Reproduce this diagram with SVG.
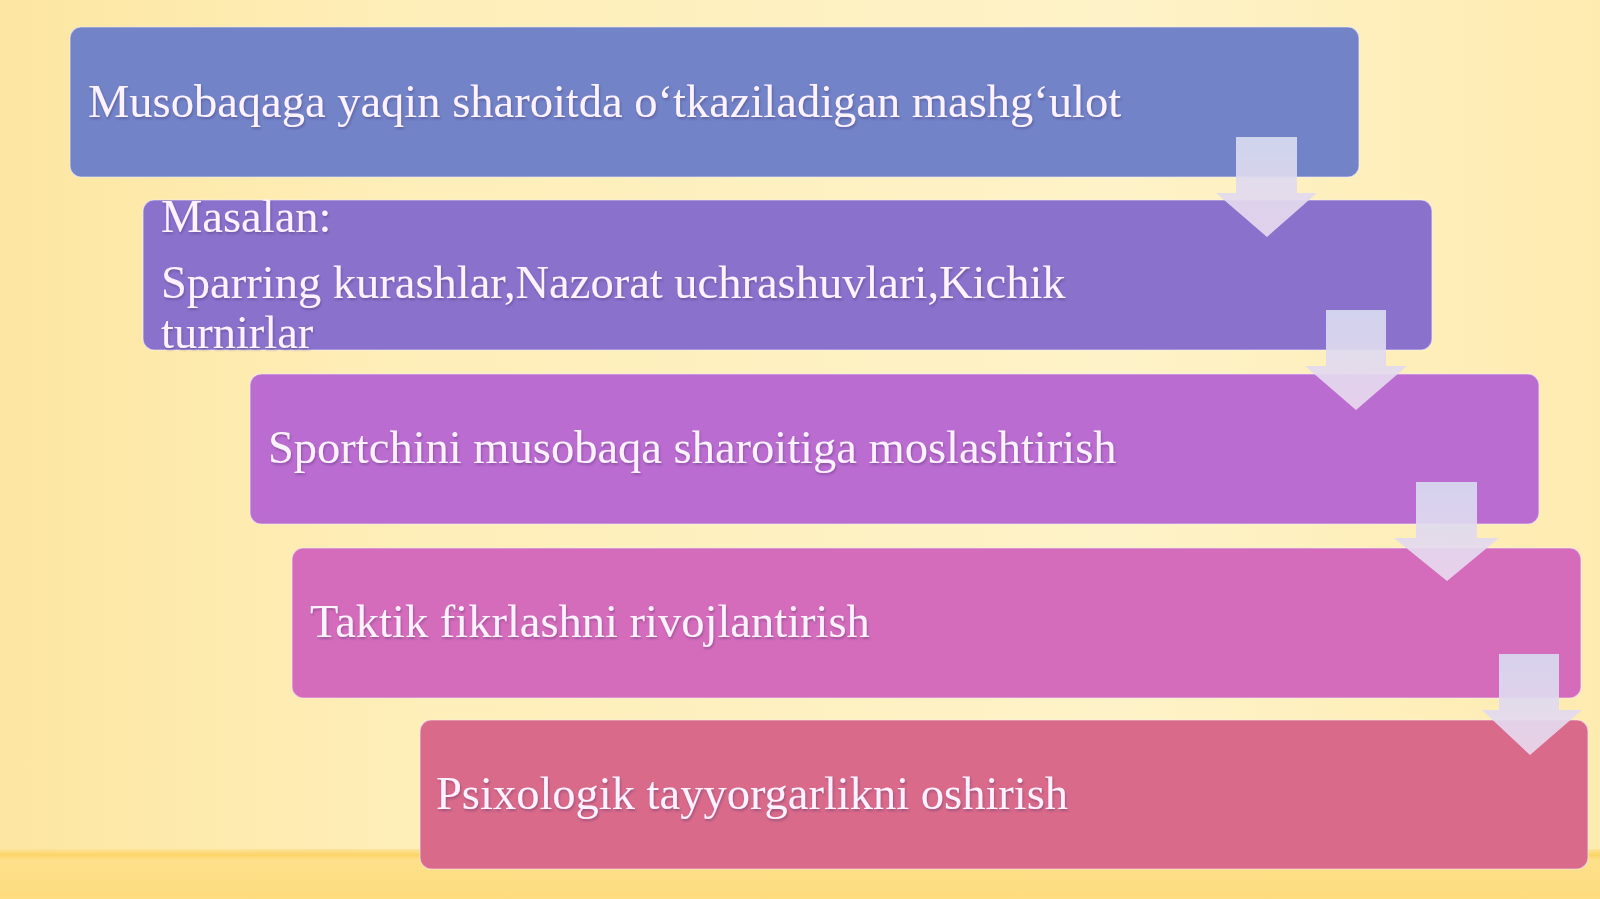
<svg xmlns="http://www.w3.org/2000/svg" width="1600" height="899" viewBox="0 0 1600 899">
  <defs>
    <linearGradient id="bg" x1="0" y1="0" x2="1" y2="0">
      <stop offset="0" stop-color="#fde6a2"/>
      <stop offset="0.25" stop-color="#feeeb8"/>
      <stop offset="0.7" stop-color="#fef3c8"/>
      <stop offset="1" stop-color="#feebb0"/>
    </linearGradient>
    <linearGradient id="band" x1="0" y1="0" x2="0" y2="1">
      <stop offset="0" stop-color="#fde49a"/>
      <stop offset="0.12" stop-color="#fcd468"/>
      <stop offset="0.22" stop-color="#fde08a"/>
      <stop offset="1" stop-color="#fddc7e"/>
    </linearGradient>
    <linearGradient id="arrowFill" x1="0" y1="0" x2="0" y2="1">
      <stop offset="0" stop-color="#d7dbf0"/>
      <stop offset="1" stop-color="#ead9ee"/>
    </linearGradient>
    <filter id="ts" x="-5%" y="-20%" width="110%" height="150%">
      <feDropShadow dx="1" dy="2" stdDeviation="1.2" flood-color="#3a2a60" flood-opacity="0.35"/>
    </filter>
  </defs>
  <style>
    .box { stroke: #f4f0fa; stroke-width: 1.2; stroke-opacity: 0.6; }
    .lbl { font-family: "Liberation Serif", "Times New Roman", serif; font-size: 46.5px; fill: #fdf2ff; }
    .arrow { fill: url(#arrowFill); opacity: 0.92; }
  </style>

  <rect x="0" y="0" width="1600" height="899" fill="url(#bg)"/>
  <rect x="0" y="849" width="1600" height="50" fill="url(#band)"/>

  <g id="node1">
    <rect class="box" x="70" y="27" width="1289" height="150" rx="11" fill="#7283c8"/>
    <text class="lbl" x="88" y="117" filter="url(#ts)">Musobaqaga yaqin sharoitda o‘tkaziladigan mashg‘ulot</text>
  </g>
  <g id="node2">
    <rect class="box" x="143" y="200" width="1289" height="150" rx="11" fill="#8a72cc"/>
    <text class="lbl" x="161" y="232" filter="url(#ts)">Masalan:</text>
    <text class="lbl" x="161" y="298" filter="url(#ts)">Sparring kurashlar,Nazorat uchrashuvlari,Kichik</text>
    <text class="lbl" x="161" y="348" filter="url(#ts)">turnirlar</text>
  </g>
  <g id="node3">
    <rect class="box" x="250" y="374" width="1289" height="150" rx="11" fill="#bb6cd0"/>
    <text class="lbl" x="268" y="463" filter="url(#ts)">Sportchini musobaqa sharoitiga moslashtirish</text>
  </g>
  <g id="node4">
    <rect class="box" x="292" y="548" width="1289" height="150" rx="11" fill="#d56cbb"/>
    <text class="lbl" x="310" y="637" filter="url(#ts)">Taktik fikrlashni rivojlantirish</text>
  </g>
  <g id="node5">
    <rect class="box" x="420" y="720" width="1168" height="149" rx="11" fill="#d96a8a"/>
    <text class="lbl" x="436" y="809" filter="url(#ts)">Psixologik tayyorgarlikni oshirish</text>
  </g>

  <g id="connectors">
    <polygon class="arrow" points="1236,137 1297,137 1297,193 1317,193 1267,237 1216,193 1236,193"/>
    <polygon class="arrow" points="1326,310 1386,310 1386,366 1407,366 1356,410 1305,366 1326,366"/>
    <polygon class="arrow" points="1416,482 1477,482 1477,538 1499,538 1447,581 1394,538 1416,538"/>
    <polygon class="arrow" points="1499,654 1559,654 1559,710 1582,710 1530,755 1482,710 1499,710"/>
  </g>
</svg>
